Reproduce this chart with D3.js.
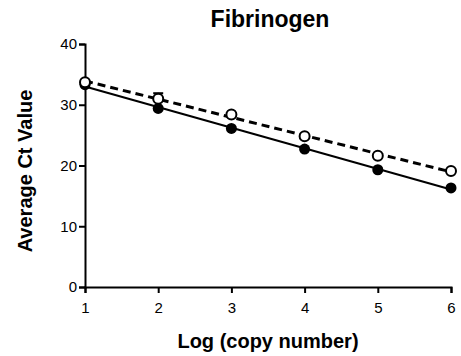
<!DOCTYPE html>
<html>
<head>
<meta charset="utf-8">
<script src="https://cdn.jsdelivr.net/npm/d3@7"></script>
<style>
  html, body { margin: 0; padding: 0; background: #fff; }
  svg text { font-family: "Liberation Sans", Arial, sans-serif; fill: #000; }
</style>
</head>
<body>
<svg id="chart" width="461" height="356"></svg>
<script>
// Standard curve: average Ct vs log copy number
const logCopies = [1, 2, 3, 4, 5, 6];
const ctSolid = [33.3, 29.4, 26.1, 22.7, 19.3, 16.3];
const ctOpen = [33.7, 31.0, 28.4, 24.8, 21.6, 19.1];
const ctOpenErr = [0, 0.9, 0, 0, 0, 0];
const xTicks = [1, 2, 3, 4, 5, 6];
const yTicks = [0, 10, 20, 30, 40];

const svg = d3.select("#chart");
const x = d3.scaleLinear().domain([1, 6]).range([85, 451]);
const y = d3.scaleLinear().domain([0, 40]).range([287, 44]);

// least-squares line through a series
function fit(xs, ys) {
  const n = xs.length;
  const mx = d3.mean(xs), my = d3.mean(ys);
  let sxy = 0, sxx = 0;
  for (let i = 0; i < n; i++) { sxy += (xs[i] - mx) * (ys[i] - my); sxx += (xs[i] - mx) ** 2; }
  const b = sxy / sxx, a = my - b * mx;
  return [[xs[0], a + b * xs[0]], [xs[n - 1], a + b * xs[n - 1]]];
}

// axes
const xAxis = svg.append("g").attr("transform", "translate(0,287)")
  .call(d3.axisBottom(x).tickValues(xTicks).tickFormat(d3.format("d")).tickSizeOuter(0).tickSize(6).tickPadding(9));
const yAxis = svg.append("g").attr("transform", "translate(85,0)")
  .call(d3.axisLeft(y).tickValues(yTicks).tickSizeOuter(0).tickSize(6).tickPadding(2));
[xAxis, yAxis].forEach(g => {
  g.select(".domain").attr("stroke", "#000").attr("stroke-width", 2);
  g.selectAll(".tick line").attr("stroke", "#000").attr("stroke-width", 2);
  g.selectAll(".tick text").attr("font-size", 15).attr("fill", "#000")
    .style("font-family", "'Liberation Sans', Arial, sans-serif");
});

const line = d3.line().x(d => x(d[0])).y(d => y(d[1]));

// fitted lines
svg.append("path").datum(fit(logCopies, ctSolid)).attr("d", line)
  .attr("fill", "none").attr("stroke", "#000").attr("stroke-width", 2);
svg.append("path").datum(fit(logCopies, ctOpen)).attr("d", line)
  .attr("fill", "none").attr("stroke", "#000").attr("stroke-width", 3).attr("stroke-dasharray", "8,5");

// error bars (open series)
const errG = svg.append("g");
logCopies.forEach((v, i) => {
  if (!ctOpenErr[i]) return;
  const yt = y(ctOpen[i] + ctOpenErr[i]);
  errG.append("line").attr("x1", x(v)).attr("x2", x(v)).attr("y1", y(ctOpen[i])).attr("y2", yt)
    .attr("stroke", "#000").attr("stroke-width", 2);
  errG.append("line").attr("x1", x(v) - 5).attr("x2", x(v) + 5).attr("y1", yt).attr("y2", yt)
    .attr("stroke", "#000").attr("stroke-width", 2);
});

// markers
svg.append("g").selectAll("circle").data(logCopies.map((v, i) => [v, ctSolid[i]])).join("circle")
  .attr("cx", d => x(d[0])).attr("cy", d => y(d[1])).attr("r", 5.5).attr("fill", "#000");
svg.append("g").selectAll("circle").data(logCopies.map((v, i) => [v, ctOpen[i]])).join("circle")
  .attr("cx", d => x(d[0])).attr("cy", d => y(d[1])).attr("r", 5).attr("fill", "#fff")
  .attr("stroke", "#000").attr("stroke-width", 2);

// titles
svg.append("text").attr("x", 270).attr("y", 27).attr("text-anchor", "middle")
  .attr("font-size", 23).attr("font-weight", "bold").text("Fibrinogen");
svg.append("text").attr("x", 268).attr("y", 348).attr("text-anchor", "middle")
  .attr("font-size", 20).attr("font-weight", "bold").text("Log (copy number)");
svg.append("text").attr("transform", "translate(32,171) rotate(-90)").attr("text-anchor", "middle")
  .attr("font-size", 20).attr("font-weight", "bold").text("Average Ct Value");
</script>
</body>
</html>
